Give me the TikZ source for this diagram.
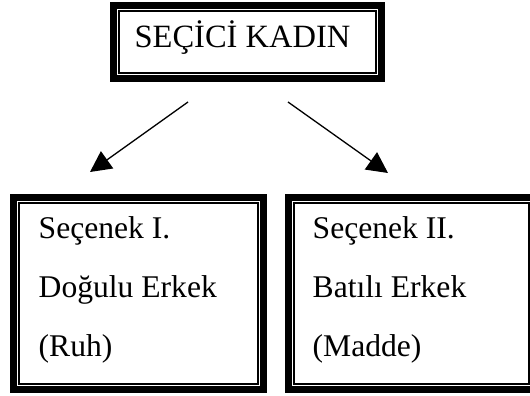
\documentclass[tikz,border=0pt]{standalone}
\usepackage{fontspec}
\setmainfont{Liberation Serif}
\usetikzlibrary{arrows.meta,calc}
\tikzset{
  framebox/.style={draw=black, line width=7pt, fill=white, inner sep=0pt,
    path picture={\draw[line width=1.3pt]
      ($(path picture bounding box.north west)+(5.6,-5.6)$) rectangle
      ($(path picture bounding box.south east)+(-5.6,5.6)$);}},
  lbl/.style={inner sep=0pt, font=\fontsize{31.6}{37}\selectfont},
  conn/.style={line width=1.3pt, -{Triangle[length=21pt,width=21pt]}}
}
\begin{document}
\begin{tikzpicture}[x=1pt,y=1pt]
\clip (0,0) rectangle (530,396);
\fill[white] (0,0) rectangle (530,396);
% boxes
\node[framebox, minimum width=268pt, minimum height=73pt] (top) at (247.5,354) {};
\node[framebox, minimum width=250pt, minimum height=192pt] (left) at (138.5,102.5) {};
\node[framebox, minimum width=246pt, minimum height=192pt] (right) at (411.5,102.5) {};
% texts
\node[lbl, anchor=base, font=\fontsize{32.5}{37}\selectfont] (toptext) at (242.5,348) {SEÇİCİ KADIN};
\node[lbl, anchor=base west] (l1) at (38.5,157.3) {Seçenek I.};
\node[lbl, anchor=base west] (l2) at (38.5,98.3) {Doğulu Erkek};
\node[lbl, anchor=base west] (l3) at (38.5,39.5) {(Ruh)};
\node[lbl, anchor=base west] (r1) at (312.5,157.3) {Seçenek II.};
\node[lbl, anchor=base west] (r2) at (312.5,98.3) {Batılı Erkek};
\node[lbl, anchor=base west] (r3) at (312.5,39.5) {(Madde)};
% connectors
\coordinate (as) at (188,294);
\coordinate (ae) at (90,224);
\coordinate (bs) at (288,294);
\coordinate (be) at (388,223);
\draw[conn] (as) -- (ae);
\draw[conn] (bs) -- (be);
\end{tikzpicture}
\end{document}
